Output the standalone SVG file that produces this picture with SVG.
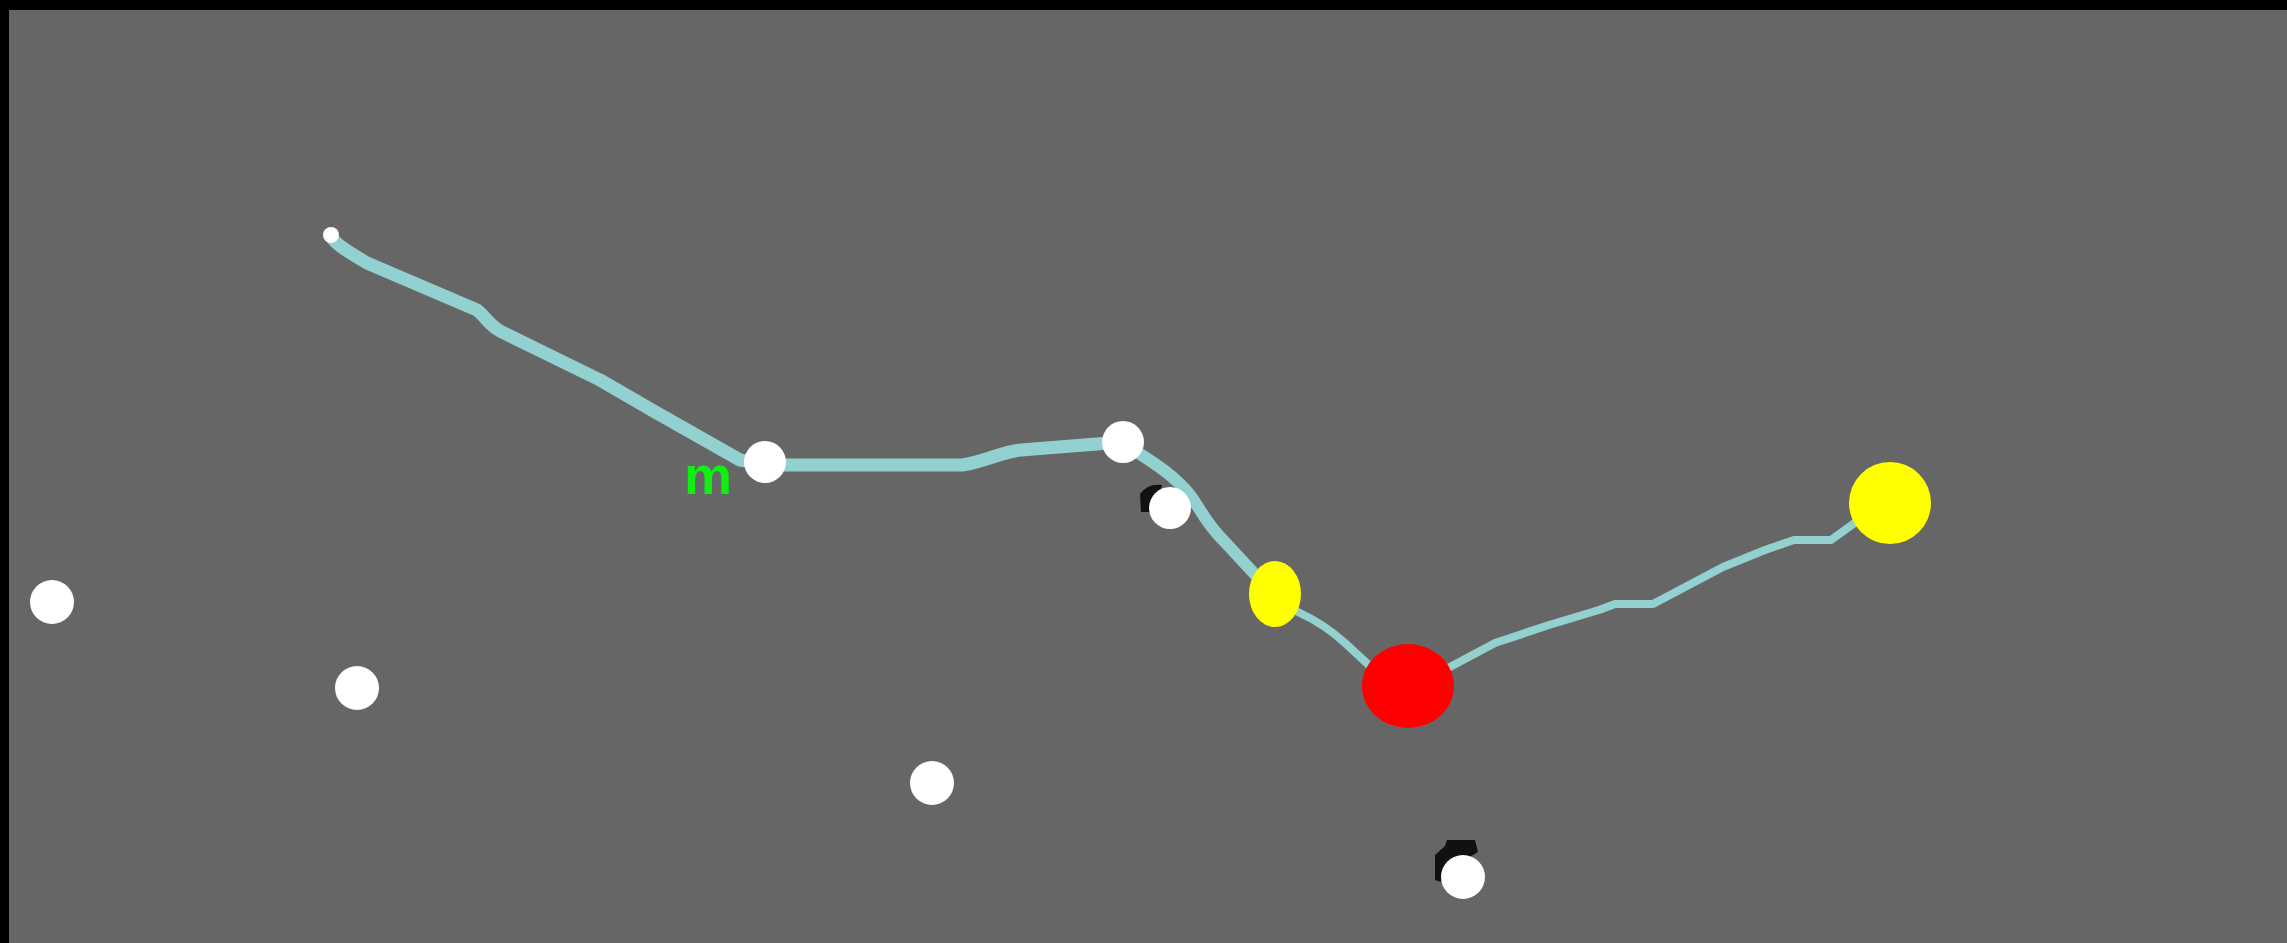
<svg xmlns="http://www.w3.org/2000/svg" width="2287" height="943" viewBox="0 0 2287 943">
<style>
.trail{fill:none;stroke:#93d0d0;stroke-linecap:round;stroke-linejoin:round}
.w{fill:#ffffff}
.y{fill:#ffff00}
.r{fill:#ff0000}
.smudge{fill:#111111}
</style>
<rect x="0" y="0" width="2287" height="943" fill="#000000"/>
<rect x="9" y="10" width="2278" height="933" fill="#666666"/>
<g id="connectors">
<path class="trail" stroke-width="13" d="M331,236 C333,242 345,250 367,263 L477,310 C485,316 488,324 500,331 L600,380 L657,413 L740,460 L765,464"/>
<path class="trail" stroke-width="13" d="M765,465 L962,465 C985,462 1000,452 1021,450 L1122,442"/>
<path class="trail" stroke-width="12" d="M1122,442 C1140,455 1170,470 1190,495 C1200,508 1205,522 1223,540 L1262,582"/>
<path class="trail" stroke-width="8" d="M1290,608 L1300,613 C1315,620 1333,632 1345,643 L1372,668 L1395,690"/>
<path class="trail" stroke-width="8" d="M1420,675 L1450,667 L1495,643 L1549,625 L1599,610 L1615,604 L1653,604 L1723,567 L1765,550 L1794,540 L1831,540 L1856,522 L1875,510"/>
</g>
<g id="start"><circle class="w" cx="331" cy="235" r="8"/></g>
<g id="label-m"><text x="684" y="494" font-family="Liberation Sans, Arial, sans-serif" font-size="54" font-weight="bold" fill="#11ee11">m</text></g>
<g id="node-w1"><circle class="w" cx="765" cy="462" r="21"/></g>
<g id="node-w2"><circle class="w" cx="1123" cy="442" r="21"/></g>
<g id="node-w3"><path class="smudge" d="M1140,494 Q1148,483 1162,485 L1160,494 L1152,499 L1150,512 L1141,512 Z"/><circle class="w" cx="1170" cy="508" r="21"/></g>
<g id="node-y1"><ellipse class="y" cx="1275" cy="594" rx="26" ry="33"/></g>
<g id="node-red"><ellipse class="r" cx="1408" cy="686" rx="46" ry="42"/></g>
<g id="node-y2"><ellipse class="y" cx="1890" cy="503" rx="41" ry="41"/></g>
<g id="dot-a"><circle class="w" cx="52" cy="602" r="22"/></g>
<g id="dot-b"><circle class="w" cx="357" cy="688" r="22"/></g>
<g id="dot-c"><circle class="w" cx="932" cy="783" r="22"/></g>
<g id="dot-d"><path class="smudge" d="M1435,855 L1445,846 L1447,840 L1475,840 L1478,852 L1445,872 L1441,882 L1435,880 Z"/><circle class="w" cx="1463" cy="877" r="22"/></g>
</svg>
